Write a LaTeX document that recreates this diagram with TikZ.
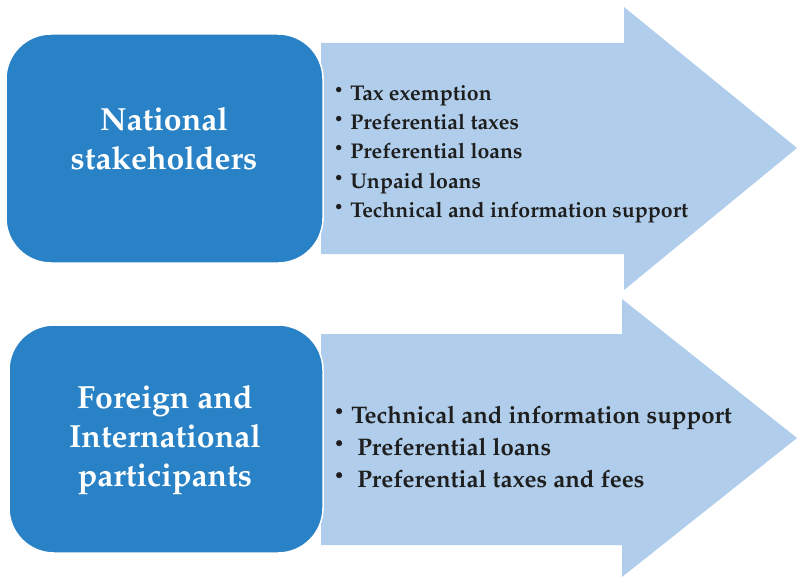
\documentclass[tikz,border=0pt]{standalone}
\usepackage[T1]{fontenc}
\usepackage{mathpazo}
\definecolor{darkblue}{RGB}{41,130,198}
\definecolor{lightblue}{RGB}{176,206,235}
\definecolor{txt}{RGB}{30,30,30}
\newcommand{\bul}{\raisebox{0.32em}{\scalebox{0.62}{$\bullet$}}\hspace{8pt}}
\tikzset{
  bigarrow/.style={fill=lightblue},
  groupbox/.style={draw=white, line width=1.5pt, fill=darkblue, rounded corners=45pt, inner sep=0pt},
  grouptext/.style={text=white, align=center, font=\fontsize{32}{39}\selectfont\bfseries},
  itemA/.style={anchor=base west, inner sep=0pt, text=txt, font=\fontsize{21.3}{24}\selectfont\bfseries},
  itemB/.style={anchor=base west, inner sep=0pt, text=txt, font=\fontsize{24}{28}\selectfont\bfseries}
}
\begin{document}
\begin{tikzpicture}[x=1pt,y=-1pt]
\useasboundingbox (0,0) rectangle (797,578);
% row 1
\fill[bigarrow] (321,43) -- (624,43) -- (624,7) -- (797,148) -- (624,290) -- (624,254) -- (321,254) -- cycle;
\node[groupbox, minimum width=317pt, minimum height=229pt] (b1) at (164.5,148.5) {};
\node[grouptext] (t1) at (164,139) {National\\stakeholders};
\node[itemA] (a1) at (335,100) {\bul Tax exemption};
\node[itemA] (a2) at (335,129) {\bul Preferential taxes};
\node[itemA] (a3) at (335,158) {\bul Preferential loans};
\node[itemA] (a4) at (335,188) {\bul Unpaid loans};
\node[itemA] (a5) at (335,217) {\bul Technical and information support};
% row 2
\fill[bigarrow] (321,334) -- (622,334) -- (622,299) -- (797,438) -- (622,577) -- (622,545) -- (321,545) -- cycle;
\node[groupbox, minimum width=314pt, minimum height=228pt] (b2) at (166,439) {};
\node[grouptext] (t2) at (165,440) {Foreign and\\International\\participants};
\node[itemB] (c1) at (335,423) {\bul Technical and information support};
\node[itemB] (c2) at (335,455) {\bul\ Preferential loans};
\node[itemB] (c3) at (335,487) {\bul\ Preferential taxes and fees};
\end{tikzpicture}
\end{document}
